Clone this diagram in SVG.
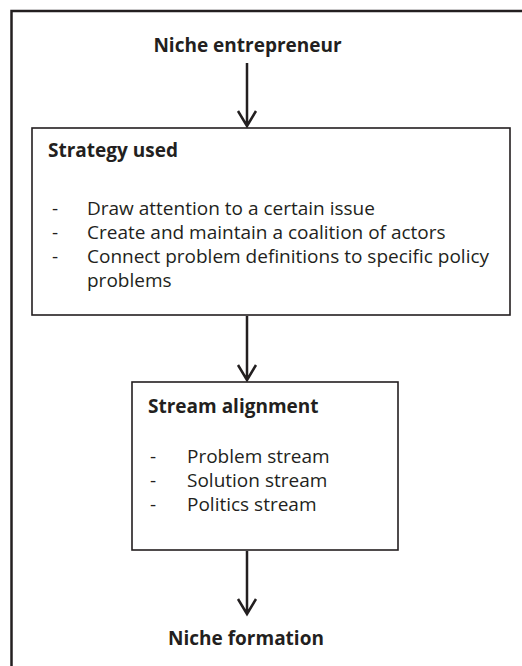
<svg xmlns="http://www.w3.org/2000/svg" width="522" height="666" viewBox="0 0 522 666">
<style>
.frame{stroke:#231f20;stroke-width:2.5;fill:none}
.box{fill:#fff;stroke:#231f20;stroke-width:1.6}
.title{font-family:"Open Sans","Liberation Sans",sans-serif;font-weight:bold;font-size:19px;fill:#231f20}
.body{font-family:"Open Sans","Liberation Sans",sans-serif;font-size:19px;fill:#231f20}
.conn{stroke:#231f20;stroke-width:2.5;fill:none}
</style>
<rect width="522" height="666" fill="#fff"/>
<g id="frame">
<path class="frame" d="M11.5 666 V11 H522"/>
</g>
<g id="connectors">
<path class="conn" d="M247 63 V126 M238 111 L247 126 L256 111"/>
<path class="conn" d="M247 316 V380 M238 365 L247 380 L256 365"/>
<path class="conn" d="M247 551 V614 M238 599 L247 614 L256 599"/>
</g>
<g id="niche-entrepreneur">
<text class="title" x="247.5" y="52" text-anchor="middle">Niche entrepreneur</text>
</g>
<g id="strategy-used">
<rect class="box" x="32" y="128" width="478" height="187"/>
<text class="title" x="48" y="157">Strategy used</text>
<text class="body" x="52" y="215">-</text>
<text class="body" x="87" y="215">Draw attention to a certain issue</text>
<text class="body" x="52" y="239">-</text>
<text class="body" x="87" y="239">Create and maintain a coalition of actors</text>
<text class="body" x="52" y="263">-</text>
<text class="body" x="87" y="263">Connect problem definitions to specific policy</text>
<text class="body" x="87" y="287">problems</text>
</g>
<g id="stream-alignment">
<rect class="box" x="132" y="382" width="266" height="168"/>
<text class="title" x="148" y="413">Stream alignment</text>
<text class="body" x="150" y="463">-</text>
<text class="body" x="187" y="463">Problem stream</text>
<text class="body" x="150" y="487">-</text>
<text class="body" x="187" y="487">Solution stream</text>
<text class="body" x="150" y="511">-</text>
<text class="body" x="187" y="511">Politics stream</text>
</g>
<g id="niche-formation">
<text class="title" x="246" y="645" text-anchor="middle">Niche formation</text>
</g>
</svg>
